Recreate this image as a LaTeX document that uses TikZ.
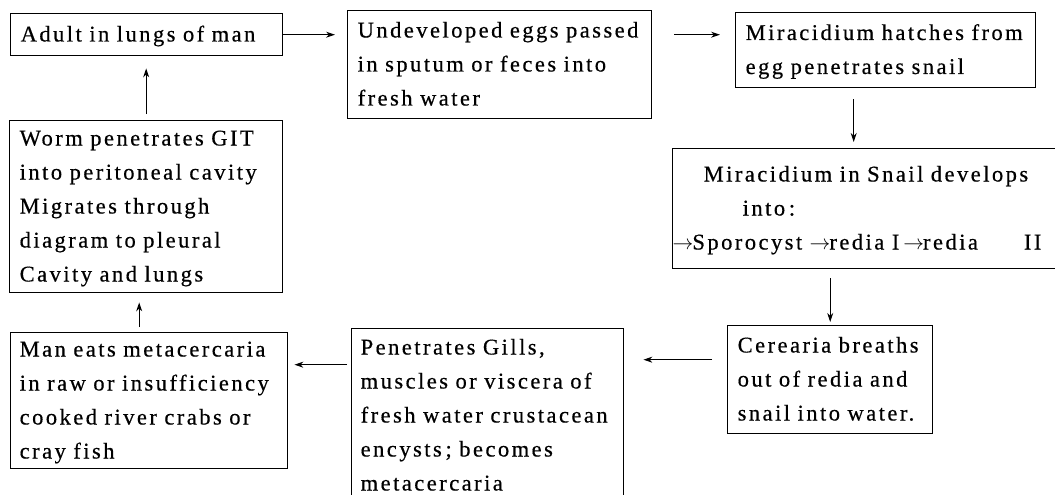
\documentclass[tikz,border=0pt]{standalone}
\usepackage{fontspec}
\setmainfont{Liberation Serif}[LetterSpace=11, WordSpace=1.2, FakeBold=0.5]
\usetikzlibrary{arrows.meta}
\newcommand{\stagefont}{\fontsize{22.5}{34}\selectfont}
\newcommand{\stagearrow}{$\rightarrow$\kern-1pt}

\begin{document}
\begin{tikzpicture}[x=1pt, y=-1pt, >={Stealth[length=9pt,width=6pt]},
  stage/.style={draw, line width=1.4pt, anchor=north west, align=left,
    inner xsep=10pt, inner ysep=0pt, font=\stagefont,
    execute at begin node=\strut, execute at end node=\strut},
  arr/.style={->, line width=1pt}]
  \useasboundingbox (0,0) rectangle (1055,495);
  % stages of the cycle
  \node[stage, text width=252pt, minimum height=42pt] (adult) at (10,13) {Adult in lungs of man};
  \node[stage, text width=284pt, minimum height=108pt] (eggs) at (347,10)
    {Undeveloped eggs passed\\in sputum or feces into\\fresh water};
  \node[stage, text width=280pt, minimum height=75pt] (hatch) at (735,12)
    {Miracidium hatches from\\egg penetrates snail};
  \node[stage, inner xsep=0pt, text width=420pt, minimum height=120pt] (snail) at (672,148)
    {\hspace*{31pt}Miracidium in Snail develops\\\hspace*{70pt}into\,:\\\stagearrow Sporocyst \stagearrow redia I\hspace{4pt}\stagearrow redia\hspace{46pt}II};
  \node[stage, text width=185pt, minimum height=108pt] (cer) at (727,325)
    {Cerearia breaths\\out of redia and\\snail into water.};
  \node[stage, inner xsep=9pt, text width=254pt, minimum height=174pt] (pen) at (351,328)
    {Penetrates Gills,\\muscles or viscera of\\fresh water crustacean\\encysts\,; becomes\\metacercaria};
  \node[stage, inner xsep=9pt, text width=259pt, minimum height=133pt] (man) at (10,332)
    {Man eats metacercaria\\in raw or insufficiency\\cooked river crabs or\\cray fish};
  \node[stage, text width=253pt, minimum height=172pt] (worm) at (9,120)
    {Worm penetrates GIT\\into peritoneal cavity\\Migrates through\\diagram to pleural\\Cavity and lungs};
  % arrows
  \draw[arr, shorten >=12pt] (adult.east) -- (adult.east -| eggs.west);
  \draw[arr, shorten <=22pt, shorten >=15pt] (eggs.east |- adult.east) -- (hatch.west |- adult.east);
  \draw[arr, shorten <=11pt, shorten >=6pt] ([xshift=-32pt]hatch.south) -- ([xshift=-32pt]hatch.south |- snail.north);
  \draw[arr, shorten <=9pt, shorten >=3pt] (cer.north |- snail.south) -- (cer.north);
  \draw[arr, shorten <=15pt, shorten >=19pt] ([yshift=20pt]cer.west) -- ([yshift=20pt]cer.west -| pen.east);
  \draw[arr, shorten <=4pt, shorten >=6pt] ([yshift=36pt]man.east -| pen.west) -- ([yshift=36pt]man.east);
  \draw[arr, shorten <=5pt, shorten >=9pt] ([xshift=-10pt]man.north) -- ([xshift=-10pt]man.north |- worm.south);
  \draw[arr, shorten <=6pt, shorten >=12pt] (worm.north) -- (worm.north |- adult.south);
\end{tikzpicture}
\end{document}
